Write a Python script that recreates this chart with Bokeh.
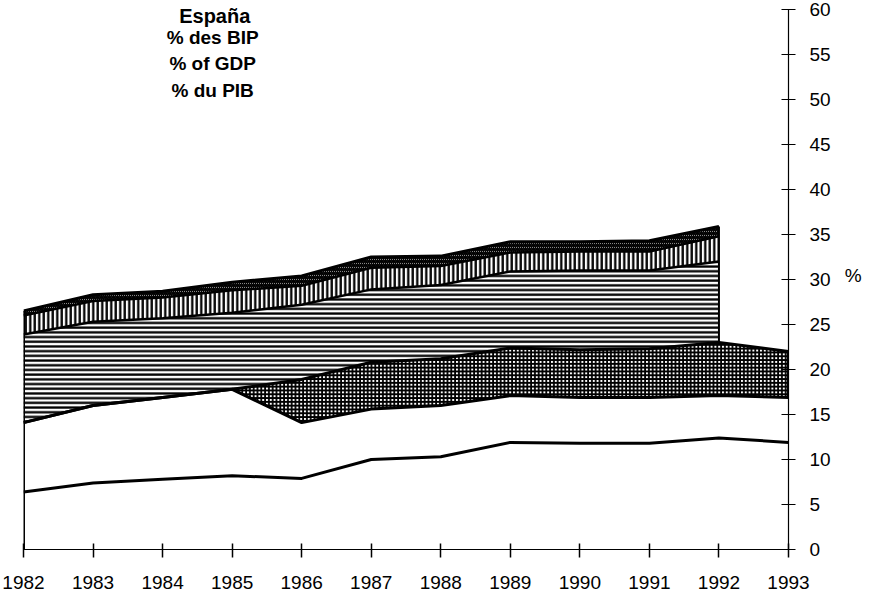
import numpy as np
from bokeh.plotting import figure
from bokeh.models import Range1d, FixedTicker, Label
from bokeh.embed import file_html
from bokeh.resources import INLINE

# ---------------- data (% of GDP) ----------------
years = [1982, 1983, 1984, 1985, 1986, 1987, 1988, 1989, 1990, 1991, 1992, 1993]
# stacked bands, bottom to top
band1 = [6.4, 7.4, 7.8, 8.2, 7.9, 10.0, 10.3, 11.9, 11.8, 11.8, 12.4, 11.9]
band2 = [7.7, 8.6, 9.1, 9.6, 6.2, 5.6, 5.7, 5.2, 5.1, 5.1, 4.7, 5.0]
band3 = [0.0, 0.0, 0.0, 0.0, 4.8, 5.2, 5.2, 5.3, 5.3, 5.4, 5.9, 5.1]
# upper bands only up to 1992
band4 = [9.8, 9.3, 8.8, 8.5, 8.3, 8.1, 8.2, 8.5, 8.8, 8.7, 9.0]
band5 = [2.1, 2.3, 2.3, 2.5, 2.1, 2.4, 2.1, 2.1, 2.1, 2.1, 2.8]
band6 = [0.5, 0.7, 0.7, 0.9, 1.1, 1.2, 1.1, 1.2, 1.1, 1.2, 1.1]
y_ticks = [0, 5, 10, 15, 20, 25, 30, 35, 40, 45, 50, 55, 60]
title_text = "España"
subtitle_lines = ["% des BIP", "% of GDP", "% du PIB"]
axis_unit = "%"

FONT = "Liberation Sans"

yrs = np.array(years, dtype=float)
n = len(band4)
c1 = np.array(band1)
c2 = c1 + np.array(band2)
c3 = c2 + np.array(band3)
c4 = c3[:n] + np.array(band4)
c5 = c4 + np.array(band5)
c6 = c5 + np.array(band6)

p = figure(
    x_range=Range1d(years[0], years[-1]),
    y_range=Range1d(y_ticks[0], y_ticks[-1] + 1),
    frame_width=765, frame_height=549,
    min_border_left=23, min_border_right=80,
    min_border_top=0, min_border_bottom=48,
    y_axis_location="right",
    output_backend="svg", toolbar_location=None,
    background_fill_color="white", border_fill_color="white",
)
p.outline_line_color = None
p.grid.visible = False

# ---------------- hatched areas ----------------
p.varea(x=yrs, y1=c2, y2=c3, fill_color="white", hatch_pattern="+",
        hatch_color="black", hatch_scale=3.8, hatch_weight=1.8)
p.varea(x=yrs[:n], y1=c3[:n], y2=c4, fill_color="white", hatch_pattern="-",
        hatch_color="black", hatch_scale=4.7, hatch_weight=2.3)
p.varea(x=yrs[:n], y1=c4, y2=c5, fill_color="white", hatch_pattern="|",
        hatch_color="black", hatch_scale=4.5, hatch_weight=2.3)
p.varea(x=yrs[:n], y1=c5, y2=c6, fill_color="white", hatch_pattern="\\",
        hatch_color="black", hatch_scale=4, hatch_weight=1.7)

# ---------------- boundary lines ----------------
for arr, xs, w in [(c1, yrs, 3), (c2, yrs, 3), (c3, yrs, 3),
                   (c4, yrs[:n], 2.5), (c5, yrs[:n], 2.5), (c6, yrs[:n], 3)]:
    p.line(xs, arr, line_color="black", line_width=w, line_join="round")

p.segment(x0=[yrs[0], yrs[n - 1], yrs[-1]], y0=[0, c3[n - 1], c2[-1]],
          x1=[yrs[0], yrs[n - 1], yrs[-1]], y1=[c6[0], c6[n - 1], c3[-1]],
          line_color="black", line_width=[3, 2, 3])

# ---------------- axes ----------------
xa = p.xaxis[0]
xa.ticker = FixedTicker(ticks=years)
xa.axis_line_color = "black"
xa.axis_line_width = 1
xa.major_tick_line_color = "black"
xa.major_tick_line_width = 1.5
xa.major_tick_in = 6
xa.major_tick_out = 8
xa.minor_tick_line_color = None
xa.major_label_text_font = FONT
xa.major_label_text_font_size = "19px"
xa.major_label_text_color = "black"
xa.major_label_standoff = 18

ya = p.yaxis[0]
ya.ticker = FixedTicker(ticks=y_ticks)
ya.bounds = (y_ticks[0], y_ticks[-1])
ya.axis_line_color = "black"
ya.axis_line_width = 1.2
ya.major_tick_line_color = "black"
ya.major_tick_line_width = 1.2
ya.major_tick_in = 7
ya.major_tick_out = 7
ya.minor_tick_line_color = None
ya.major_label_text_font = FONT
ya.major_label_text_font_size = "19px"
ya.major_label_text_color = "black"
ya.major_label_standoff = 14
ya.axis_label = axis_unit
ya.axis_label_orientation = "horizontal"
ya.axis_label_text_font = FONT
ya.axis_label_text_font_size = "19px"
ya.axis_label_text_font_style = "normal"
ya.axis_label_text_color = "black"
ya.axis_label_standoff = 11

# ---------------- titles ----------------
p.add_layout(Label(x=1984.75, y=59.25, text=title_text, text_font=FONT,
                   text_font_size="20px", text_font_style="bold",
                   text_align="center", text_baseline="alphabetic",
                   text_color="black"))
for txt, yy in zip(subtitle_lines, [56.9, 54.0, 51.0]):
    p.add_layout(Label(x=1984.72, y=yy, text=txt, text_font=FONT,
                       text_font_size="19px", text_font_style="bold",
                       text_align="center", text_baseline="middle",
                       text_color="black"))

open("out.html", "w").write(file_html(p, INLINE))
